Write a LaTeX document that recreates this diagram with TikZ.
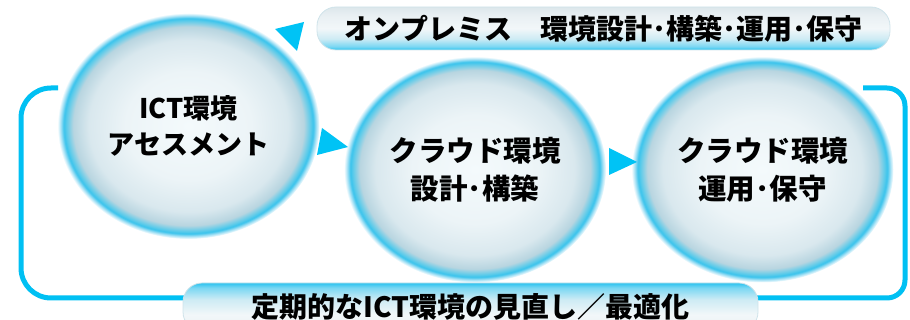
\documentclass[tikz,border=0pt]{standalone}
\usepackage{fontspec}
\newfontfamily\jp{Noto Sans CJK JP}
\usetikzlibrary{shapes.geometric,backgrounds}
\definecolor{loopcyan}{RGB}{0,192,243}
\definecolor{tricyan}{RGB}{0,195,245}
\definecolor{bA}{HTML}{F4FAFC}
\definecolor{bB}{HTML}{ECF4F7}
\definecolor{bC}{HTML}{D9E8EE}
\definecolor{bD}{HTML}{B8D5E0}
\definecolor{bE}{HTML}{5CCBEA}
\definecolor{bF}{HTML}{3AC3EC}
\definecolor{bG}{HTML}{A5E1F5}
\definecolor{tA}{HTML}{2CC3EF}
\definecolor{tB}{HTML}{7AD7F3}
\definecolor{tC}{HTML}{CDEBF4}
\definecolor{tD}{HTML}{F2F7F9}
\definecolor{tE}{HTML}{E9F0F3}
\definecolor{tF}{HTML}{DCE7EB}
\definecolor{bannerline}{HTML}{CFE3EA}
\pgfdeclareradialshading{bubble}{\pgfpoint{0bp}{0bp}}{color(0bp)=(bA); color(12bp)=(bB); color(19bp)=(bC); color(22bp)=(bD); color(23.3bp)=(bE); color(23.8bp)=(bF); color(24.4bp)=(bG); color(25bp)=(white); color(50bp)=(white)}
\pgfdeclareverticalshading{bantop}{100bp}{color(0bp)=(tA); color(25bp)=(tA); color(29bp)=(tB); color(38bp)=(tC); color(50bp)=(tD); color(65bp)=(tE); color(75bp)=(tF); color(100bp)=(tF)}
\pgfdeclareverticalshading{banbot}{100bp}{color(0bp)=(tE); color(25bp)=(tE); color(42bp)=(tD); color(58bp)=(tC); color(70bp)=(tB); color(75bp)=(tA); color(100bp)=(tA)}
\tikzset{
  bubble/.style={ellipse, shade, shading=bubble, minimum width=262pt, minimum height=226pt,
    inner sep=0pt, align=center, text=black, font=\jp\bfseries\fontsize{28.5}{38}\selectfont},
  bannerbox/.style={rectangle, rounded corners=19pt, draw=bannerline, line width=0.8pt,
    inner sep=0pt, text=black, font=\jp\bfseries\fontsize{28}{30}\selectfont},
  loopline/.style={draw=loopcyan, line width=5pt},
  tri/.style={fill=tricyan}
}
\begin{document}
\begin{tikzpicture}[x=1pt,y=-1pt]
\useasboundingbox (0,0) rectangle (910,320);
% bubbles
\node[bubble, font=\jp\bfseries\fontsize{27}{36}\selectfont] (e1) at (188.5,126) {ICT環境\\アセスメント};
\node[bubble] (e2) at (475,169.5) {クラウド環境\\設計･構築};
\node[bubble] (e3) at (762.5,169.5) {クラウド環境\\運用･保守};
% banners
\node[bannerbox, shade, shading=bantop, minimum width=573pt, minimum height=43pt] (b1) at (603.5,28.5) {オンプレミス　環境設計･構築･運用･保守};
\node[bannerbox, shade, shading=banbot, minimum width=575pt, minimum height=48pt] (b2) at (470.5,307) {定期的なICT環境の見直し／最適化};
% loop lines
\coordinate (ls) at (58,88);
\coordinate (lc1) at (21,88);
\coordinate (lc2) at (21,298);
\coordinate (rs) at (863,88);
\coordinate (rc1) at (905,88);
\coordinate (rc2) at (905,298);
\begin{scope}[on background layer]
\draw[loopline, rounded corners=30pt] (ls) -- (lc1) -- (lc2) -- (b2.center |- lc2);
\draw[loopline, rounded corners=18pt] (rs) -- (rc1) -- (rc2) -- (b2.center |- rc2);
\end{scope}
% arrow heads
\fill[tri] (322,128) -- (317,155) -- (348,147) -- cycle;
\fill[tri] (609,148) -- (609,175) -- (637,162) -- cycle;
\fill[tri] (275,29) -- (304,22) -- (297,51) -- cycle;
\end{tikzpicture}
\end{document}
